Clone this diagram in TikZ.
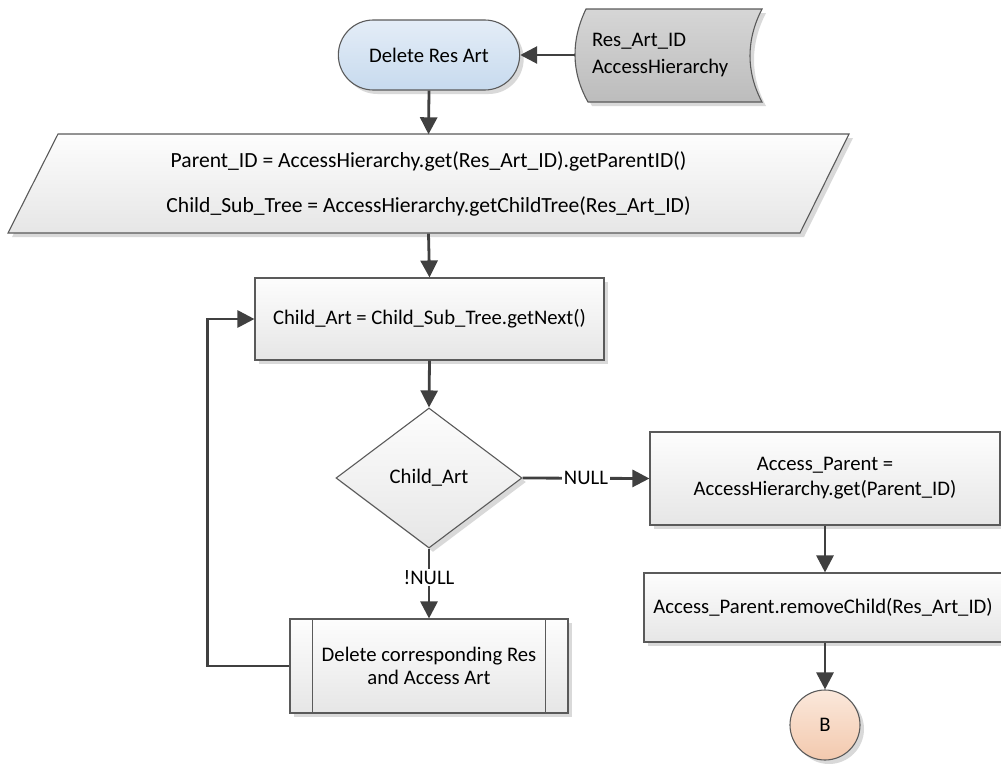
\documentclass[tikz,border=0pt]{standalone}
\usepackage{fontspec}
\setmainfont{Carlito}
\usetikzlibrary{arrows.meta,shadows,shapes.geometric,shapes.misc,calc}

\definecolor{outline}{HTML}{5A5A5A}
\definecolor{flowline}{HTML}{404040}
\definecolor{boxtop}{HTML}{FDFDFD}
\definecolor{boxbottom}{HTML}{E6E6E6}
\definecolor{termtop}{HTML}{E4EDF7}
\definecolor{termbottom}{HTML}{C7DAEE}
\definecolor{datatop}{HTML}{D6D6D6}
\definecolor{databottom}{HTML}{BCBCBC}
\definecolor{conntop}{HTML}{FBE8DB}
\definecolor{connbottom}{HTML}{F3C9AE}
\definecolor{shade}{HTML}{D9D9D9}

\tikzset{
  softshadow/.style={drop shadow={shadow xshift=4pt, shadow yshift=-4pt, fill=shade, opacity=1}},
  outlined/.style={draw=outline, line width=1.1pt},
  boxfill/.style={top color=boxtop, bottom color=boxbottom},
  process/.style={rectangle, outlined, boxfill, softshadow, inner sep=4pt, align=center},
  terminal/.style={rounded rectangle, outlined, top color=termtop, bottom color=termbottom,
    softshadow, minimum width=188pt, minimum height=70pt},
  decision/.style={diamond, outlined, boxfill, softshadow, inner sep=0pt,
    minimum width=186pt, minimum height=140pt},
  connector/.style={circle, outlined, top color=conntop, bottom color=connbottom,
    softshadow, inner sep=0pt, minimum size=70pt},
  flow/.style={draw=flowline, line width=2.8pt, -{Triangle[length=17pt,width=17pt]}},
  flowlabel/.style={fill=white, inner sep=1.5pt, text=black}
}

\begin{document}
\begin{tikzpicture}[x=1pt, y=-1pt, font=\fontsize{20.7}{24.5}\selectfont]
\useasboundingbox (0,0) rectangle (1001,763);

% start terminal
\node[terminal] (start) at (429,55) {Delete Res Art};

% stored input data
\draw[outlined, top color=datatop, bottom color=databottom, softshadow]
  (586,9) .. controls (571,40) and (571,72) .. (588,102)
  -- (762,102) .. controls (746,72) and (746,40) .. (762,9) -- cycle;
\node[text width=153pt, inner xsep=17pt, inner ysep=0pt, minimum height=93pt,
  align=left, font=\fontsize{20.7}{27}\selectfont] (input) at (668.5,55)
  {Res\_Art\_ID\\AccessHierarchy};

% lookup of parent and child tree
\draw[outlined, boxfill, softshadow] (8,233) -- (58,134) -- (849,134) -- (800,233) -- cycle;
\node[minimum height=99pt, inner sep=0pt, align=center, font=\fontsize{21.6}{45}\selectfont]
  (lookup) at (428.5,184)
  {Parent\_ID = AccessHierarchy.get(Res\_Art\_ID).getParentID()\\
   Child\_Sub\_Tree = AccessHierarchy.getChildTree(Res\_Art\_ID)};

% loop body
\node[process, minimum width=349pt, minimum height=82pt] (next) at (429.5,319)
  {Child\_Art = Child\_Sub\_Tree.getNext()};
\node[decision] (test) at (429,478) {Child\_Art};
\node[process, minimum width=278pt, minimum height=94pt, font=\fontsize{20.7}{23.5}\selectfont]
  (purge) at (429,666) {Delete corresponding Res\\and Access Art};
\draw[outlined] ([xshift=23pt]purge.north west) -- ([xshift=23pt]purge.south west);
\draw[outlined] ([xshift=-23pt]purge.north east) -- ([xshift=-23pt]purge.south east);

% parent update
\node[process, minimum width=350pt, minimum height=93pt, font=\fontsize{20.7}{25}\selectfont]
  (parent) at (825,478.5) {Access\_Parent =\\AccessHierarchy.get(Parent\_ID)};
\node[process, minimum width=358pt, minimum height=69pt] (remove) at (823,607.5)
  {Access\_Parent.removeChild(Res\_Art\_ID)};
\node[connector] (offpage) at (825,725) {B};

% connectors
\draw[flow] (input.west) -- (start.east);
\draw[flow] (start.south) -- (lookup.north);
\draw[flow] (lookup.south) -- (next.north);
\draw[flow] (next.south) -- (test.north);
\draw[flow] (test.east) -- node[flowlabel] {NULL} (parent.west);
\draw[flow] (test.south) -- node[flowlabel, pos=0.42] {!NULL} (purge.north);
\draw[flow] (purge.west) -- ++(-82,0) |- (next.west);
\draw[flow] (parent.south) -- (parent.south |- remove.north);
\draw[flow] (remove.south -| offpage.north) -- (offpage.north);
\end{tikzpicture}
\end{document}
